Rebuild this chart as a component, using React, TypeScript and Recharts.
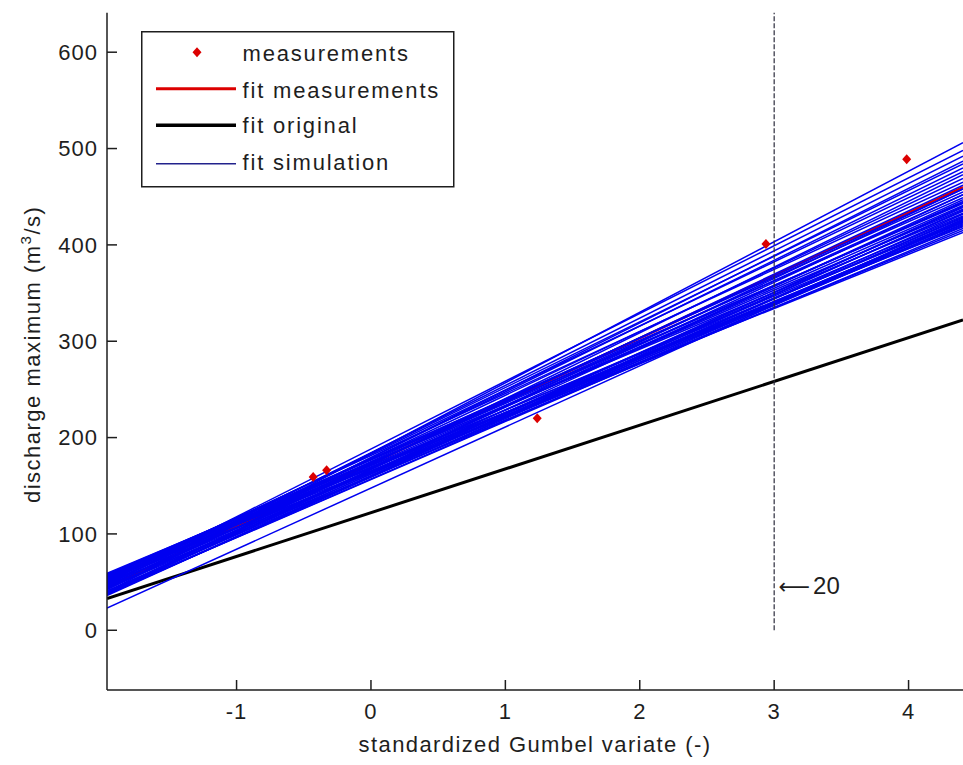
import React from 'react';
import {
  ComposedChart,
  Line,
  Scatter,
  XAxis,
  YAxis,
  ReferenceLine,
  ReferenceDot,
  Legend,
  Label,
} from 'recharts';

// ---------- data ----------
const xDomain = [-1.964, 4.405];
const yDomain = [-62, 641];
const xTicks = [-1, 0, 1, 2, 3, 4];
const yTicks = [0, 100, 200, 300, 400, 500, 600];

// fitted lines are evaluated at the two ends of the x range
const fitX = [-1.964, 4.405];

const measX = [-0.43, -0.33, 1.237, 2.939, 3.986];
const measY = [159, 166, 220, 401, 489];

const fitMeasY = [44.7, 459.9];
const fitOrigY = [32.9, 322];

const simLeft = [40, 50, 47, 42, 50, 45, 52, 38, 48, 55, 43, 37, 53, 49, 57, 39, 46, 58, 51, 39, 56, 44, 59, 37, 53, 48, 23, 57, 41, 54, 38, 50, 58, 45, 52, 55, 36, 40, 37, 47, 54, 43, 49, 56, 38];
const simRight = [506, 498, 492, 487, 484, 480, 476, 473, 469, 465, 462, 458, 455, 452, 449, 447, 445, 443, 441, 439, 437, 435, 433, 432, 430, 428, 427, 426, 425, 423, 422, 420, 419, 417, 415, 413, 440, 452, 436, 424, 444, 429, 458, 421, 424];

const returnPeriodX = 3;
const returnPeriodTop = 641;
const annotPoint = { x: 3.04, y: 47 };
const annotArrow = '⟵';
const annotText = '20';

const seriesNames = ['measurements', 'fit measurements', 'fit original', 'fit simulation'];
const xLabel = 'standardized Gumbel variate (-)';

// ---------- derived tables ----------
const measData = measX.map((x, i) => ({ x, y: measY[i] }));
const fitMeasData = fitX.map((x, i) => ({ x, y: fitMeasY[i] }));
const fitOrigData = fitX.map((x, i) => ({ x, y: fitOrigY[i] }));
const simData = simLeft.map((l, i) => [
  { x: fitX[0], y: l },
  { x: fitX[1], y: simRight[i] },
]);

const FONT = '"Liberation Sans", Arial, Helvetica, sans-serif';
const INK = '#1e1e1e';
const RED = '#dc0000';
const BLUE = '#0000f0';

const XTick = (props: any) => {
  const { x, y, payload } = props;
  return (
    <g>
      <line x1={x} y1={y} x2={x} y2={y - 10} stroke={INK} strokeWidth={1.5} />
      <text x={x} y={y + 29} textAnchor="middle" fontSize={22} fontFamily={FONT} fill={INK} letterSpacing={1}>
        {payload.value}
      </text>
    </g>
  );
};

const YTick = (props: any) => {
  const { x, y, payload } = props;
  return (
    <g>
      <line x1={x} y1={y} x2={x + 10} y2={y} stroke={INK} strokeWidth={1.5} />
      <text x={x - 9} y={y} dy="0.36em" textAnchor="end" fontSize={22} fontFamily={FONT} fill={INK} letterSpacing={1}>
        {payload.value}
      </text>
    </g>
  );
};

const Diamond = (p: any) => {
  const { cx, cy } = p;
  if (cx == null || cy == null) return null;
  return <polygon points={`${cx},${cy - 5} ${cx + 4.5},${cy} ${cx},${cy + 5} ${cx - 4.5},${cy}`} fill={RED} />;
};

const XLabelContent = (p: any) => {
  const vb = p.viewBox;
  return (
    <text x={vb.x + vb.width / 2} y={vb.y + 62} textAnchor="middle" fontSize={22} fontFamily={FONT} fill={INK} letterSpacing={1.4}>
      {xLabel}
    </text>
  );
};

const YLabelContent = (p: any) => {
  const vb = p.viewBox;
  const cx = vb.x + 13;
  const cy = vb.y + vb.height / 2 + 3;
  return (
    <text x={cx} y={cy} textAnchor="middle" fontSize={22} fontFamily={FONT} fill={INK} letterSpacing={1.5} transform={`rotate(-90, ${cx}, ${cy})`}>
      <tspan>discharge maximum (m</tspan>
      <tspan dy={-9} fontSize={15}>3</tspan>
      <tspan dy={9}>/s)</tspan>
    </text>
  );
};

const AnnotContent = (p: any) => {
  const vb = p.viewBox || {};
  const x = (vb.x ?? 0) + (vb.width ?? 0) / 2;
  const y = (vb.y ?? 0) + (vb.height ?? 0) / 2;
  return (
    <text x={x - 1} y={y} dy="0.36em" fontSize={24} fontFamily={FONT} fill={INK}>
      <tspan fontFamily='"DejaVu Sans", sans-serif' fontSize={22}>{annotArrow}</tspan>
      <tspan dx={3}>{annotText}</tspan>
    </text>
  );
};

const LegendBox = () => (
  <svg width={314} height={157} style={{ display: 'block' }}>
    <rect x={0.75} y={0.75} width={312} height={155} fill="#fff" stroke={INK} strokeWidth={1.5} />
    <polygon points="56,16.3 60.5,21.3 56,26.3 51.5,21.3" fill={RED} />
    <line x1={15} y1={57.8} x2={95} y2={57.8} stroke={RED} strokeWidth={3} />
    <line x1={15} y1={94.3} x2={95} y2={94.3} stroke="#000" strokeWidth={3.5} />
    <line x1={15} y1={132.8} x2={95} y2={132.8} stroke="#22228c" strokeWidth={1.5} />
    {seriesNames.map((n, i) => (
      <text key={n} x={101.6} y={[30.3, 67.3, 102.3, 139.3][i]} fontSize={22} fontFamily={FONT} fill={INK} letterSpacing={1.8}>
        {n}
      </text>
    ))}
  </svg>
);

export default function App() {
  return (
    <div style={{ position: 'absolute', left: 0, top: 0, width: 963, height: 765, background: '#fff', overflow: 'hidden' }}>
      <ComposedChart width={963} height={765} margin={{ top: 12.7, right: 0, bottom: 30, left: 27 }}>
        <XAxis
          type="number"
          dataKey="x"
          domain={xDomain}
          allowDataOverflow
          ticks={xTicks}
          interval={0}
          tick={(p: any) => <XTick {...p} />}
          tickSize={0}
          tickMargin={0}
          tickLine={false}
          axisLine={{ stroke: INK, strokeWidth: 1.5 }}
          height={45}
        >
          <Label content={XLabelContent} />
        </XAxis>
        <YAxis
          type="number"
          dataKey="y"
          domain={yDomain}
          allowDataOverflow
          ticks={yTicks}
          interval={0}
          tick={(p: any) => <YTick {...p} />}
          tickSize={0}
          tickMargin={0}
          tickLine={false}
          axisLine={{ stroke: INK, strokeWidth: 1.5 }}
          width={80}
        >
          <Label content={YLabelContent} />
        </YAxis>
        <Scatter data={measData} dataKey="y" fill={RED} shape={Diamond} isAnimationActive={false} />
        <Line data={fitMeasData} dataKey="y" stroke={RED} strokeWidth={2.5} dot={false} isAnimationActive={false} />
        <Line data={fitOrigData} dataKey="y" stroke="#000" strokeWidth={3} dot={false} isAnimationActive={false} />
        {simData.map((d, i) => (
          <Line key={i} data={d} dataKey="y" stroke={BLUE} strokeWidth={1.5} dot={false} isAnimationActive={false} />
        ))}
        <ReferenceLine
          segment={[{ x: returnPeriodX, y: 0 }, { x: returnPeriodX, y: returnPeriodTop }]}
          stroke="#2c2c3c"
          strokeWidth={1.2}
          strokeDasharray="5 2"
        />
        <ReferenceDot x={annotPoint.x} y={annotPoint.y} r={1} fill="none" stroke="none" label={<Label content={AnnotContent} />} />
        <Legend
          content={LegendBox}
          layout="horizontal"
          align="center"
          verticalAlign="middle"
          wrapperStyle={{ left: 141, top: 31, width: 314, height: 157 }}
        />
      </ComposedChart>
    </div>
  );
}
